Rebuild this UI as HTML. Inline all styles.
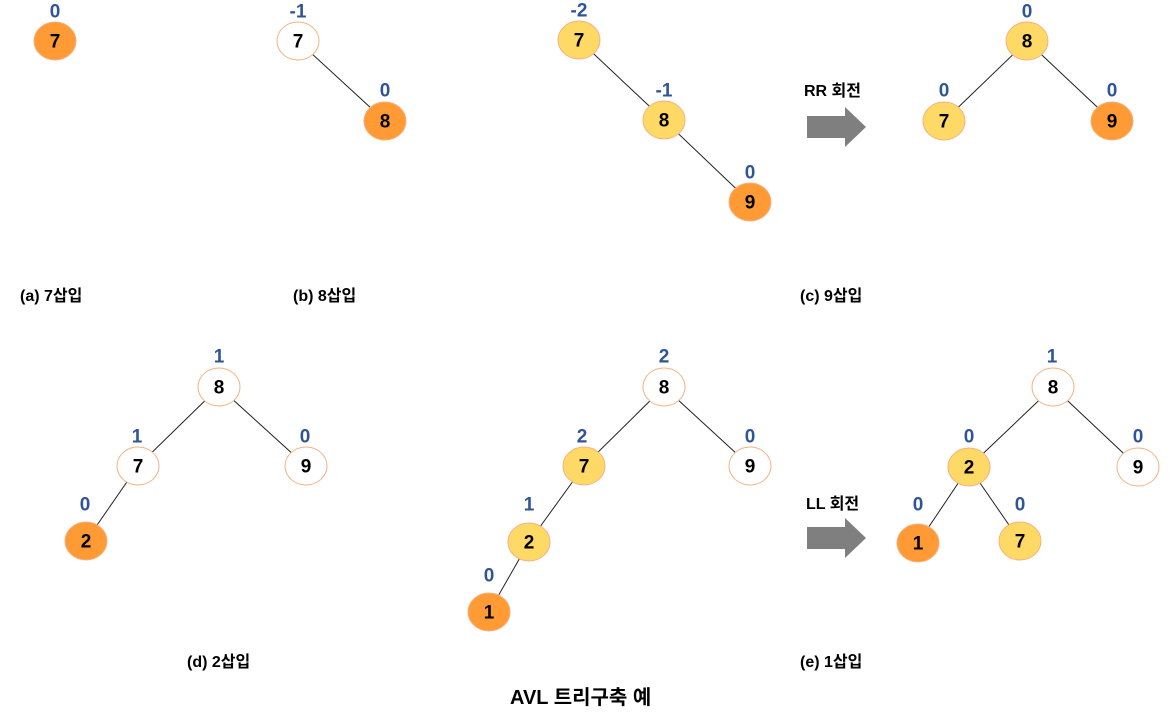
<!DOCTYPE html>
<html><head><meta charset="utf-8"><style>
html,body{margin:0;padding:0;background:#fff;width:1172px;height:717px;overflow:hidden}
svg{display:block}
.n{font:bold 19px "Liberation Sans","Noto Sans CJK KR",sans-serif;text-anchor:middle;dominant-baseline:central;fill:#000}
.b{font:bold 19px "Liberation Sans",sans-serif;text-anchor:middle;dominant-baseline:central;fill:#2F5597}
.c{font:bold 16px "Liberation Sans","Noto Sans CJK KR",sans-serif;fill:#000}
.t{font:bold 20px "Liberation Sans","Noto Sans CJK KR",sans-serif;fill:#000}
line{stroke:#222;stroke-width:1}
</style></head><body>
<svg width="1172" height="717" viewBox="0 0 1172 717" xmlns="http://www.w3.org/2000/svg">
<defs>
<style>.o{fill:#FF9A35;stroke:#F4B183;stroke-width:1}.y{fill:#FFD966;stroke:#F4B183;stroke-width:1}.w{fill:#fff;stroke:#F4B183;stroke-width:1}</style>
</defs>
<line x1="298" y1="41" x2="385" y2="121"/>
<line x1="579" y1="40" x2="664" y2="120"/>
<line x1="664" y1="120" x2="750" y2="202"/>
<line x1="1027" y1="41" x2="944" y2="121"/>
<line x1="1027" y1="41" x2="1112" y2="121"/>
<line x1="219" y1="387" x2="138" y2="466"/>
<line x1="219" y1="387" x2="306" y2="466"/>
<line x1="138" y1="466" x2="86" y2="541"/>
<line x1="664" y1="387" x2="584" y2="466"/>
<line x1="664" y1="387" x2="750" y2="466"/>
<line x1="584" y1="466" x2="529" y2="542"/>
<line x1="529" y1="542" x2="489" y2="612"/>
<line x1="1053" y1="387" x2="969" y2="467"/>
<line x1="1053" y1="387" x2="1138" y2="467"/>
<line x1="969" y1="467" x2="918" y2="543"/>
<line x1="969" y1="467" x2="1020" y2="541"/>
<g>
<ellipse class="o" cx="55" cy="41" rx="21" ry="19"/><text class="n" x="55" y="42">7</text><text class="b" x="55" y="12">0</text>
<ellipse class="w" cx="298" cy="41" rx="21" ry="19"/><text class="n" x="298" y="42">7</text><text class="b" x="298" y="12">-1</text>
<ellipse class="o" cx="385" cy="121" rx="21" ry="19"/><text class="n" x="385" y="122">8</text><text class="b" x="385" y="91">0</text>
<ellipse class="y" cx="579" cy="40" rx="21" ry="19"/><text class="n" x="579" y="41">7</text><text class="b" x="579" y="11">-2</text>
<ellipse class="y" cx="664" cy="120" rx="21" ry="19"/><text class="n" x="664" y="121">8</text><text class="b" x="664" y="91">-1</text>
<ellipse class="o" cx="750" cy="202" rx="21" ry="19"/><text class="n" x="750" y="203">9</text><text class="b" x="750" y="173">0</text>
<ellipse class="y" cx="1027" cy="41" rx="21" ry="19"/><text class="n" x="1027" y="42">8</text><text class="b" x="1027" y="12">0</text>
<ellipse class="y" cx="944" cy="121" rx="21" ry="19"/><text class="n" x="944" y="122">7</text><text class="b" x="944" y="91">0</text>
<ellipse class="o" cx="1112" cy="121" rx="21" ry="19"/><text class="n" x="1112" y="122">9</text><text class="b" x="1112" y="91">0</text>

<ellipse class="w" cx="219" cy="387" rx="21" ry="19"/><text class="n" x="219" y="388">8</text><text class="b" x="219" y="357">1</text>
<ellipse class="w" cx="138" cy="466" rx="21" ry="19"/><text class="n" x="138" y="467">7</text><text class="b" x="137" y="437">1</text>
<ellipse class="w" cx="306" cy="466" rx="21" ry="19"/><text class="n" x="306" y="467">9</text><text class="b" x="305" y="437">0</text>
<ellipse class="o" cx="86" cy="541" rx="21" ry="19"/><text class="n" x="86" y="542">2</text><text class="b" x="85" y="505">0</text>

<ellipse class="w" cx="664" cy="387" rx="21" ry="19"/><text class="n" x="664" y="388">8</text><text class="b" x="664" y="357">2</text>
<ellipse class="y" cx="584" cy="466" rx="21" ry="19"/><text class="n" x="584" y="467">7</text><text class="b" x="582" y="437">2</text>
<ellipse class="w" cx="750" cy="466" rx="21" ry="19"/><text class="n" x="750" y="467">9</text><text class="b" x="750" y="437">0</text>
<ellipse class="y" cx="529" cy="542" rx="21" ry="19"/><text class="n" x="529" y="543">2</text><text class="b" x="529" y="505">1</text>
<ellipse class="o" cx="489" cy="612" rx="21" ry="19"/><text class="n" x="489" y="613">1</text><text class="b" x="489" y="576">0</text>

<ellipse class="w" cx="1053" cy="387" rx="21" ry="19"/><text class="n" x="1053" y="388">8</text><text class="b" x="1052" y="357">1</text>
<ellipse class="y" cx="969" cy="467" rx="21" ry="19"/><text class="n" x="969" y="468">2</text><text class="b" x="969" y="437">0</text>
<ellipse class="w" cx="1138" cy="467" rx="21" ry="19"/><text class="n" x="1138" y="468">9</text><text class="b" x="1138" y="437">0</text>
<ellipse class="o" cx="918" cy="543" rx="21" ry="19"/><text class="n" x="918" y="544">1</text><text class="b" x="918" y="505">0</text>
<ellipse class="y" cx="1020" cy="541" rx="21" ry="19"/><text class="n" x="1020" y="542">7</text><text class="b" x="1020" y="505">0</text>
</g>
<polygon fill="#7F7F7F" points="807,116 845,116 845,107 866,127 845,147 845,138 807,138"/>
<polygon fill="#7F7F7F" points="807,527 845,527 845,518 866,538 845,558 845,549 807,549"/>
<text class="c" x="804" y="96">RR 회전</text>
<text class="c" x="806" y="509">LL 회전</text>
<text class="c" x="20" y="301">(a) 7삽입</text>
<text class="c" x="293" y="301">(b) 8삽입</text>
<text class="c" x="800" y="301">(c) 9삽입</text>
<text class="c" x="187" y="667">(d) 2삽입</text>
<text class="c" x="800" y="667">(e) 1삽입</text>
<text class="t" x="510" y="704">AVL 트리구축 예</text>
</svg>
</body></html>
